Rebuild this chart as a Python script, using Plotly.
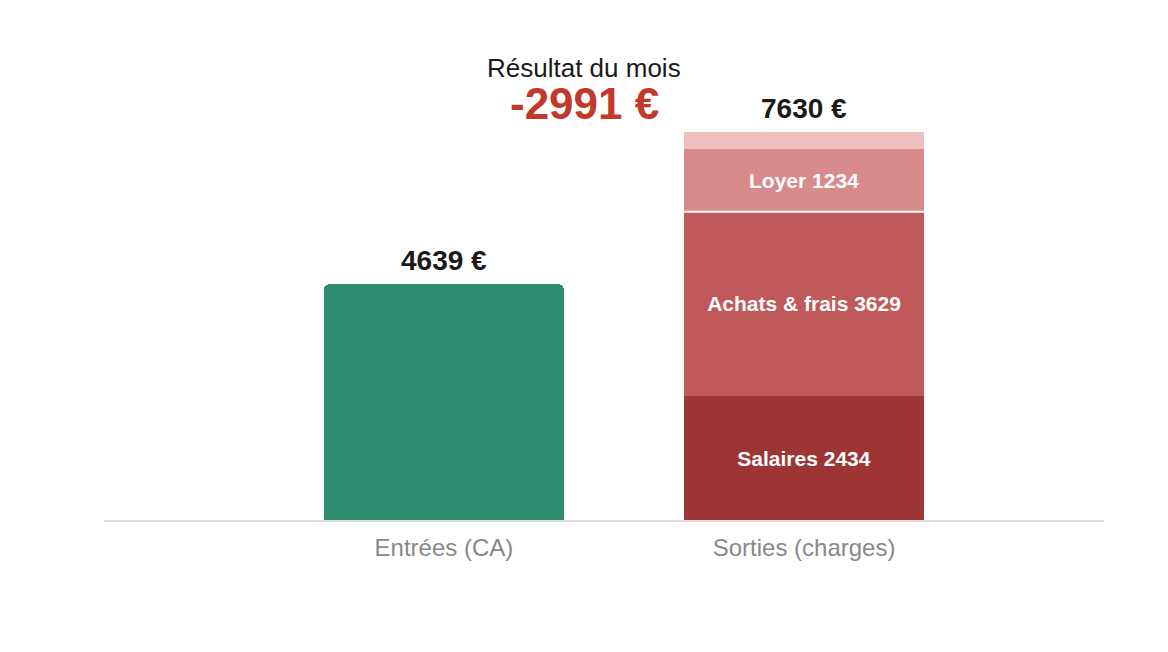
import plotly.graph_objects as go

categories = ["Entrées (CA)", "Sorties (charges)"]
entrees = 4639
charge_names = ["Salaires", "Achats & frais", "Loyer", "Autres"]
charge_values = [2434, 3629, 1234, 333]
charge_colors = ["#9e3535", "#c05a5a", "#d98a8a", "#eec0c0"]
charge_labelled = [True, True, True, False]
total_sorties = sum(charge_values)
resultat = entrees - total_sorties

fig = go.Figure()
for name, val, col, lab in zip(charge_names, charge_values, charge_colors, charge_labelled):
    fig.add_trace(go.Bar(
        x=[categories[1]], y=[val], width=0.667, name=name,
        marker=dict(color=col, cornerradius=0, line=dict(width=0)),
        text=[f"{name} {val}" if lab else ""],
        textposition="inside", insidetextanchor="middle",
        textfont=dict(color="white", size=21, family="Liberation Sans, Arial", weight="bold"),
        hoverinfo="skip", showlegend=False,
    ))
fig.add_trace(go.Bar(
    x=[categories[0]], y=[entrees], width=0.667, xaxis="x2",
    marker=dict(color="#2e8b6f", cornerradius=6, line=dict(width=0)),
    hoverinfo="skip", showlegend=False,
))

# white separator above "Achats & frais"
sep_y = charge_values[0] + charge_values[1]
fig.add_shape(type="line", xref="x", yref="y", x0=0.6665, x1=1.3335, y0=sep_y, y1=sep_y,
              line=dict(color="white", width=2))

label_font = dict(size=28, color="#1a1a1a", family="Liberation Sans, Arial", weight="bold")
fig.add_annotation(x=categories[0], y=entrees, text=f"{entrees} €", showarrow=False,
                   yanchor="bottom", yshift=6, font=label_font)
fig.add_annotation(x=categories[1], y=total_sorties, text=f"{total_sorties} €", showarrow=False,
                   yanchor="bottom", yshift=6, font=label_font)

fig.add_annotation(xref="paper", yref="paper", x=0.48, y=1.0, yshift=-8, text="Résultat du mois",
                   showarrow=False, yanchor="middle",
                   font=dict(size=26, color="#1a1a1a", family="Liberation Sans, Arial"))
fig.add_annotation(xref="paper", yref="paper", x=0.48, y=1.0, yshift=-43, text=f"{resultat} €",
                   showarrow=False, yanchor="middle",
                   font=dict(size=44, color="#c0392b", family="Liberation Sans, Arial", weight="bold"))

xrange = [-0.944, 1.833]
fig.update_layout(
    width=1168, height=652, barmode="stack",
    margin=dict(l=96, r=72, t=52, b=140),
    paper_bgcolor="white", plot_bgcolor="white",
    font=dict(family="Liberation Sans, Arial"),
    xaxis=dict(type="category", categoryorder="array", categoryarray=categories,
               range=xrange, showgrid=False, showline=True,
               linecolor="#dddddd", linewidth=2, ticks="", ticklabelstandoff=5,
               tickfont=dict(size=24, color="#888888")),
    xaxis2=dict(type="category", categoryorder="array", categoryarray=categories,
                range=xrange, overlaying="x", visible=False),
    yaxis=dict(range=[0, 9046], visible=False),
)
fig.write_html("out.html")
